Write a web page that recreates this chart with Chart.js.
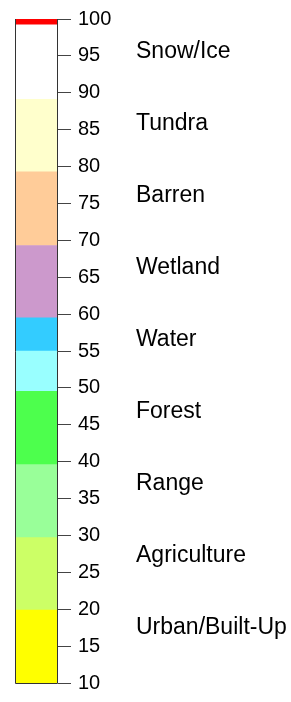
<!DOCTYPE html>
<html>
<head>
<meta charset="utf-8">
<script src="https://cdn.jsdelivr.net/npm/chart.js@4/dist/chart.umd.min.js"></script>
<style>
  html, body { margin: 0; padding: 0; background: #ffffff; }
  #wrap { width: 291px; height: 702px; position: relative; }
</style>
</head>
<body>
<div id="wrap"><canvas id="c"></canvas></div>
<script>
// Land-cover classes (from bottom to top of the colour bar)
const classNames = ["Urban/Built-Up", "Agriculture", "Range", "Forest", "Water", "Wetland", "Barren", "Tundra", "Snow/Ice"];
// Colour bands: lower and upper bound of each band on the value axis
const bandLow  = [10,   19.9, 29.7, 39.6, 49.55, 55,   59.5, 69.3, 79.3, 89.1, 99.2];
const bandHigh = [19.9, 29.7, 39.6, 49.55, 55,   59.5, 69.3, 79.3, 89.1, 99.2, 100];
const bandColors = ["#FFFF00", "#CCFF66", "#99FF99", "#4DFF4D", "#99FFFF", "#33CCFF",
                    "#CC99CC", "#FFCC99", "#FFFFCC", "#FFFFFF", "#FF0000"];
// Value-axis positions of the class labels (bottom to top)
const labelValues = [17.55, 27.3, 37.05, 46.8, 56.55, 66.3, 76.05, 85.8, 95.55];
// Axis range and tick step
const axisMin = 10, axisMax = 100, tickStep = 5;

const datasets = bandLow.map((lo, i) => ({
  data: [[lo, bandHigh[i]]],
  backgroundColor: bandColors[i],
  borderWidth: 0,
  barPercentage: 1,
  categoryPercentage: 1
}));

const frameAndLabels = {
  id: 'frameAndLabels',
  afterDatasetsDraw(chart) {
    const ctx = chart.ctx, a = chart.chartArea;
    ctx.save();
    ctx.strokeStyle = '#333333';
    ctx.lineWidth = 1;
    ctx.beginPath();
    ctx.moveTo(Math.round(a.left) + 0.5, a.top);
    ctx.lineTo(Math.round(a.left) + 0.5, Math.round(a.bottom) + 0.5);
    ctx.lineTo(Math.round(a.right) - 0.5, Math.round(a.bottom) + 0.5);
    ctx.lineTo(Math.round(a.right) - 0.5, a.top);
    ctx.stroke();
    ctx.restore();
  },
  afterDraw(chart) {
    const ctx = chart.ctx, y = chart.scales.y;
    ctx.save();
    ctx.fillStyle = '#000000';
    ctx.font = '23px "Liberation Sans", Arial, sans-serif';
    ctx.textAlign = 'left';
    ctx.textBaseline = 'middle';
    classNames.forEach((name, i) => {
      ctx.fillText(name, 136, y.getPixelForValue(labelValues[i]));
    });
    ctx.restore();
  }
};

new Chart(document.getElementById('c'), {
  type: 'bar',
  data: { labels: [''], datasets },
  options: {
    responsive: true,
    maintainAspectRatio: false,
    animation: false,
    layout: { padding: { left: 15, top: 13, bottom: 12, right: 0 } },
    plugins: { legend: { display: false }, tooltip: { enabled: false } },
    scales: {
      x: { display: false, stacked: true },
      y: {
        position: 'right',
        min: axisMin,
        max: axisMax,
        afterFit(scale) { scale.width = 233; },
        ticks: {
          stepSize: tickStep,
          color: '#000000',
          padding: 7,
          font: { size: 20, family: '"Liberation Sans", Arial, sans-serif' }
        },
        grid: { drawOnChartArea: false, tickLength: 13, color: '#444444' },
        border: { display: false }
      }
    }
  },
  plugins: [frameAndLabels]
});
</script>
</body>
</html>
